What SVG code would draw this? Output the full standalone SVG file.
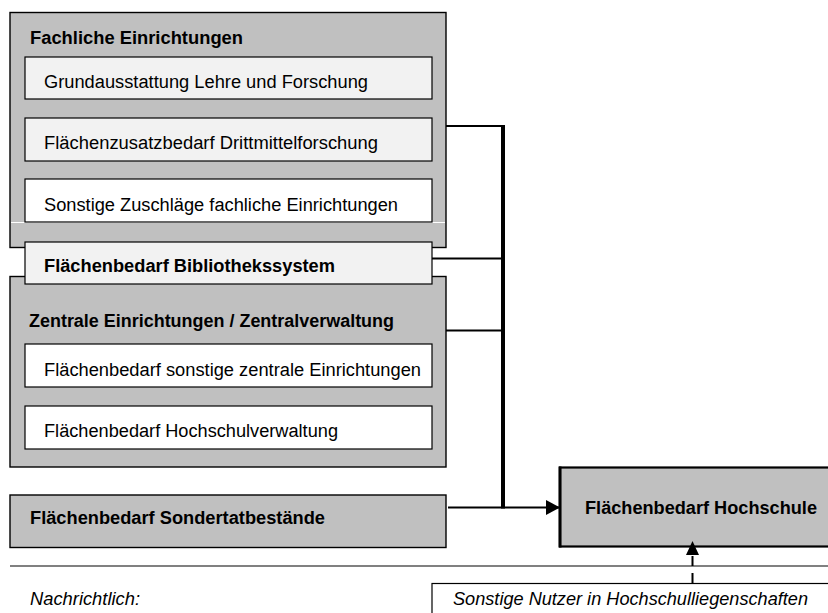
<svg xmlns="http://www.w3.org/2000/svg" width="828" height="613" viewBox="0 0 828 613">
<style>
text{font-family:"Liberation Sans",Arial,sans-serif;font-size:18px;fill:#000}
.b{font-weight:bold}
.i{font-style:italic}
.outer{fill:#c0c0c0;stroke:#000;stroke-width:1.4}
.light{fill:#f2f2f2;stroke:#000;stroke-width:1.2}
.white{fill:#fff;stroke:#000;stroke-width:1.2}
.con{stroke:#000;fill:none}
</style>
<defs>
<marker id="ah" markerWidth="14" markerHeight="15" refX="14" refY="7.5" orient="auto" markerUnits="userSpaceOnUse">
<path d="M0,0 L14,7.5 L0,15 Z" fill="#000"/>
</marker>
</defs>
<rect width="828" height="613" fill="#fff"/>
<g id="fachliche">
<rect class="outer" x="10" y="12.5" width="436" height="235"/>
<text class="b" x="30" y="44" textLength="213" lengthAdjust="spacingAndGlyphs">Fachliche Einrichtungen</text>
<line x1="11" y1="222.5" x2="445" y2="222.5" stroke="#fff" stroke-width="1"/>
</g>
<g id="grundausstattung">
<rect class="light" x="25" y="57" width="407" height="42"/>
<text x="44" y="88" textLength="324" lengthAdjust="spacingAndGlyphs">Grundausstattung Lehre und Forschung</text>
</g>
<g id="drittmittel">
<rect class="light" x="25" y="118" width="407" height="43"/>
<text x="44" y="149" textLength="334" lengthAdjust="spacingAndGlyphs">Flächenzusatzbedarf Drittmittelforschung</text>
</g>
<g id="zuschlaege">
<rect class="white" x="25" y="179" width="407" height="43"/>
<text x="44" y="210.5" textLength="354" lengthAdjust="spacingAndGlyphs">Sonstige Zuschläge fachliche Einrichtungen</text>
</g>
<g id="zentrale">
<rect class="outer" x="10" y="276.5" width="436" height="190.5"/>
<text class="b" x="29" y="326.5" textLength="365" lengthAdjust="spacingAndGlyphs">Zentrale Einrichtungen / Zentralverwaltung</text>
</g>
<g id="bibliothek">
<rect class="light" x="25" y="242" width="407" height="42"/>
<text class="b" x="44" y="271.5" textLength="291" lengthAdjust="spacingAndGlyphs">Flächenbedarf Bibliothekssystem</text>
</g>
<g id="sonstige-zentrale">
<rect class="white" x="25" y="344" width="407" height="43"/>
<text x="44" y="376" textLength="377" lengthAdjust="spacingAndGlyphs">Flächenbedarf sonstige zentrale Einrichtungen</text>
</g>
<g id="hochschulverwaltung">
<rect class="white" x="25" y="406" width="407" height="43"/>
<text x="44" y="437" textLength="294" lengthAdjust="spacingAndGlyphs">Flächenbedarf Hochschulverwaltung</text>
</g>
<g id="sondertatbestaende">
<rect class="outer" x="10" y="495" width="436" height="52.5"/>
<text class="b" x="30" y="524" textLength="295" lengthAdjust="spacingAndGlyphs">Flächenbedarf Sondertatbestände</text>
</g>
<g id="hochschule">
<rect x="560" y="467.5" width="272" height="79" fill="#c0c0c0" stroke="#000" stroke-width="2.2"/>
<line x1="560" y1="466.5" x2="560" y2="547.5" stroke="#000" stroke-width="3"/>
<text class="b" x="585" y="513.5" textLength="232" lengthAdjust="spacingAndGlyphs">Flächenbedarf Hochschule</text>
</g>
<g id="separator">
<line x1="10" y1="566" x2="828" y2="566" stroke="#808080" stroke-width="2"/>
<text class="i" x="30" y="604.5" textLength="110" lengthAdjust="spacingAndGlyphs">Nachrichtlich:</text>
</g>
<g id="sonstige-nutzer">
<rect x="432" y="583.5" width="400" height="40" fill="#fff" stroke="#000" stroke-width="1.2"/>
<text class="i" x="453" y="604.5" textLength="355" lengthAdjust="spacingAndGlyphs">Sonstige Nutzer in Hochschulliegenschaften</text>
</g>
<g id="connectors">
<line class="con" x1="446" y1="126" x2="505" y2="126" stroke-width="2"/>
<line class="con" x1="432" y1="258.5" x2="503" y2="258.5" stroke-width="2"/>
<line class="con" x1="446" y1="330.5" x2="505" y2="330.5" stroke-width="2"/>
<line class="con" x1="503" y1="125" x2="503" y2="508.5" stroke-width="4"/>
<line class="con" x1="448" y1="507.5" x2="560" y2="507.5" stroke-width="2" marker-end="url(#ah)"/>
<line class="con" x1="692.5" y1="583" x2="692.5" y2="555" stroke-width="2" stroke-dasharray="10,7"/>
<path d="M686,555 L699,555 L692.5,541 Z" fill="#000"/>
</g>
</svg>
